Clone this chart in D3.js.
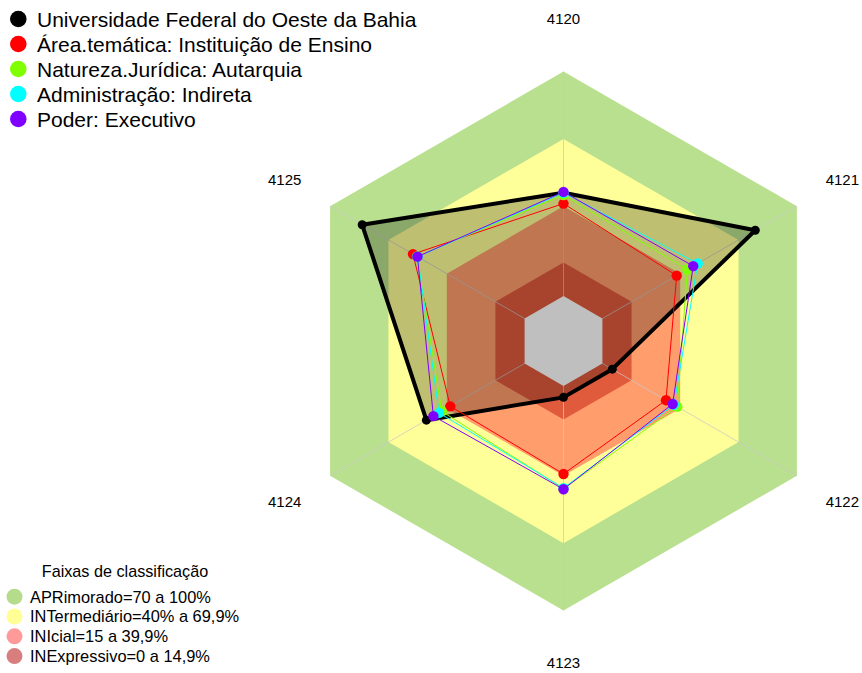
<!DOCTYPE html>
<html>
<head>
<meta charset="utf-8">
<script src="https://cdn.jsdelivr.net/npm/d3@7"></script>
<style>
  body { margin: 0; background: #fff; }
  text { font-family: "Liberation Sans", Arial, sans-serif; fill: #000; }
</style>
</head>
<body>
<svg class="chart"></svg>
<script>
// data
var axes = ["4120", "4121", "4122", "4123", "4124", "4125"];
var ufob = [46, 78.6, 5.1, 5.1, 50.5, 83.5];
var areaTematica = [41.2, 38.2, 32.7, 39.2, 38.2, 57.4];
var natureza = [45, 43.7, 38.5, 45.8, 42.6, 55.3];
var administracao = [46, 49, 36.8, 45.5, 44, 55];
var poder = [46.4, 46.7, 36.1, 46, 46.9, 55.1];

var seriesNames = [
  "Universidade Federal do Oeste da Bahia",
  "Área.temática: Instituição de Ensino",
  "Natureza.Jurídica: Autarquia",
  "Administração: Indireta",
  "Poder: Executivo"
];
var seriesColors = ["#000000", "#ff0000", "#80ff00", "#00ffff", "#8000ff"];
var seriesValues = [ufob, areaTematica, natureza, administracao, poder];

// classification bands (upper limit of each)
var bandLimits = [100, 70, 40, 15];
var bandColors = ["#b9e08e", "#ffff99", "#ff9e6c", "#e05a3c"];
var centreLimit = 0;
var centreColor = "#bfbfbf";
var bandLabels = [
  "APRimorado=70 a 100%",
  "INTermediário=40% a 69,9%",
  "INIcial=15 a 39,9%",
  "INExpressivo=0 a 14,9%"
];
var bandLegendColors = ["#b5dc8a", "#ffff96", "#ff9a9a", "#d97e7e"];

function show() {
  'use strict';

  var width = 862, height = 673;
  var cx = 563.5, cy = 341, R = 269.5;

  var chart = d3.select(".chart")
    .attr("width", width)
    .attr("height", height);

  var r = d3.scaleLinear().domain([-20, 100]).range([0, R]);
  var angle = d3.scaleLinear().domain([0, axes.length]).range([0, 2 * Math.PI]);

  var g = chart.append("g").attr("transform", "translate(" + cx + "," + cy + ")");

  var radial = d3.lineRadial()
    .angle(function (d, i) { return angle(i); })
    .radius(function (d) { return r(d); })
    .curve(d3.curveLinearClosed);

  function ring(v) { return radial(axes.map(function () { return v; })); }

  // bands, drawn from outer to inner
  g.selectAll(".band").data(bandLimits)
    .enter().append("path")
      .attr("class", "band")
      .attr("d", ring)
      .attr("fill", function (v, i) { return bandColors[i]; })
      .attr("stroke", "none");

  // spokes
  g.selectAll(".spoke").data(axes)
    .enter().append("line")
      .attr("x1", 0).attr("y1", 0)
      .attr("x2", function (d, i) { return r(100) * Math.sin(angle(i)); })
      .attr("y2", function (d, i) { return -r(100) * Math.cos(angle(i)); })
      .attr("stroke", "#c8c8c8")
      .attr("stroke-opacity", 0.75)
      .attr("stroke-width", 1);

  // axis labels
  var labelR = 322;
  g.selectAll(".axis-label").data(axes)
    .enter().append("text")
      .attr("x", function (d, i) { return labelR * Math.sin(angle(i)); })
      .attr("y", function (d, i) { return -labelR * Math.cos(angle(i)) + 5; })
      .attr("text-anchor", "middle")
      .style("font-size", "15px")
      .text(function (d) { return d; });

  // series
  seriesValues.forEach(function (vals, s) {
    var isMain = s === 0;
    g.append("path")
      .attr("d", radial(vals))
      .attr("fill", isMain ? "rgba(0,0,0,0.25)" : "none")
      .attr("stroke", seriesColors[s])
      .attr("stroke-width", isMain ? 4 : 1)
      .attr("stroke-linejoin", "round");

    g.selectAll(".pt" + s).data(vals)
      .enter().append("circle")
        .attr("cx", function (d, i) { return r(d) * Math.sin(angle(i)); })
        .attr("cy", function (d, i) { return -r(d) * Math.cos(angle(i)); })
        .attr("r", isMain ? 4.5 : 5.2)
        .attr("fill", seriesColors[s]);
  });

  // grey centre sits on top of the fills
  g.append("path")
    .attr("d", ring(centreLimit))
    .attr("fill", centreColor);

  // top legend
  var leg = chart.append("g");
  leg.selectAll("circle").data(seriesNames)
    .enter().append("circle")
      .attr("cx", 18.3)
      .attr("cy", function (d, i) { return 19 + i * 25; })
      .attr("r", 8.3)
      .attr("fill", function (d, i) { return seriesColors[i]; });
  leg.selectAll("text").data(seriesNames)
    .enter().append("text")
      .attr("x", 37)
      .attr("y", function (d, i) { return 26.5 + i * 25; })
      .style("font-size", "21px")
      .text(function (d) { return d; });

  // band legend
  var bleg = chart.append("g");
  bleg.append("text")
    .attr("x", 125)
    .attr("y", 577)
    .attr("text-anchor", "middle")
    .style("font-size", "16.2px")
    .text("Faixas de classificação");
  bleg.selectAll("circle").data(bandLabels)
    .enter().append("circle")
      .attr("cx", 14.5)
      .attr("cy", function (d, i) { return 596.7 + i * 19.8; })
      .attr("r", 8)
      .attr("fill", function (d, i) { return bandLegendColors[i]; });
  bleg.selectAll(".bl").data(bandLabels)
    .enter().append("text")
      .attr("x", 30)
      .attr("y", function (d, i) { return 602.5 + i * 19.8; })
      .style("font-size", "16.4px")
      .text(function (d) { return d; });
}
show();
</script>
</body>
</html>
